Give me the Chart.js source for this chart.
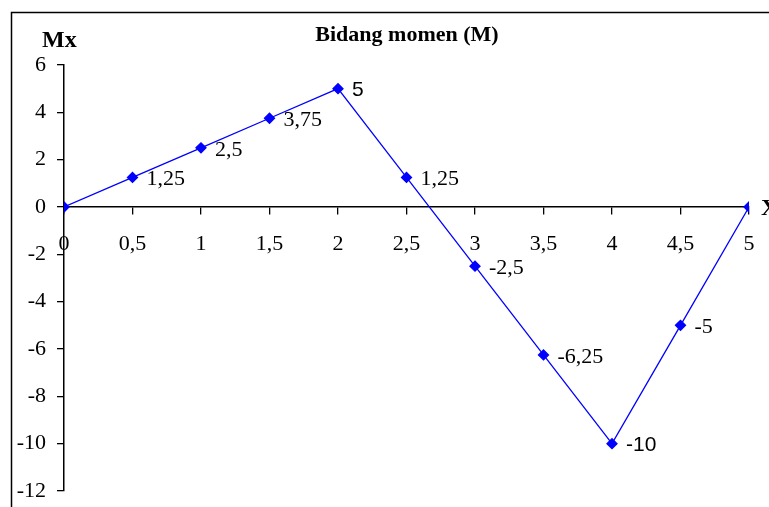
<!DOCTYPE html>
<html>
<head>
<meta charset="utf-8">
<script src="https://cdn.jsdelivr.net/npm/chart.js@4.4.1/dist/chart.umd.min.js"></script>
<style>
  html, body { margin: 0; padding: 0; background: #fff; }
  #wrap { width: 769px; height: 507px; }
</style>
</head>
<body>
<div id="wrap"><canvas id="momenChart" width="769" height="507"></canvas></div>
<script>
// ========== data ==========
const xValues = [0, 0.5, 1, 1.5, 2, 2.5, 3, 3.5, 4, 4.5, 5];
const mValues = [0, 1.25, 2.5, 3.75, 5, 1.25, -2.5, -6.25, -10, -5, 0];
const pointLabels = ['', '1,25', '2,5', '3,75', '5', '1,25', '-2,5', '-6,25', '-10', '-5', ''];
const sansLabels = ['5', '-10'];   // these two look like Arial in the original
const xTicks = [0, 0.5, 1, 1.5, 2, 2.5, 3, 3.5, 4, 4.5, 5];
const yTicks = [-12, -10, -8, -6, -4, -2, 0, 2, 4, 6];

const serif = "'Liberation Serif', 'Times New Roman', serif";
const sans = "'Liberation Sans', Arial, sans-serif";

// labels next to points, title, axis captions, outer frame
const extrasPlugin = {
  id: 'extras',
  afterDatasetsDraw(chart) {
    const ctx = chart.ctx;
    const meta = chart.getDatasetMeta(0);
    ctx.save();
    ctx.fillStyle = '#000';
    ctx.textAlign = 'left';
    ctx.textBaseline = 'middle';
    meta.data.forEach((pt, i) => {
      const txt = pointLabels[i];
      if (!txt) return;
      ctx.font = sansLabels.includes(txt) ? '21px ' + sans : '22px ' + serif;
      ctx.fillText(txt, pt.x + 14, pt.y + 2);
    });

    ctx.textAlign = 'center';
    ctx.font = 'bold 22px ' + serif;
    ctx.fillText('Bidang momen (M)', 407, 35);

    ctx.textAlign = 'left';
    ctx.font = 'bold 24px ' + serif;
    ctx.fillText('Mx', 42, 41);
    ctx.fillText('X', 761, 209);

    ctx.strokeStyle = '#000';
    ctx.lineWidth = 1.5;
    ctx.strokeRect(11.5, 12.5, 900, 700);
    ctx.restore();
  }
};

// drop the automatic label padding so layout.padding alone places the plot area
function noPadding(scale) {
  scale.paddingTop = 0;
  scale.paddingBottom = 0;
  scale.paddingLeft = 0;
  scale.paddingRight = 0;
}

const ctx = document.getElementById('momenChart').getContext('2d');

new Chart(ctx, {
  type: 'line',
  data: {
    datasets: [{
      label: 'M',
      data: xValues.map((x, i) => ({ x: x, y: mValues[i] })),
      borderColor: '#0000ff',
      backgroundColor: '#0000ff',
      borderWidth: 1.3,
      pointStyle: 'rectRot',
      pointRadius: 5,
      pointHoverRadius: 5,
      tension: 0
    }]
  },
  options: {
    responsive: false,
    animation: false,
    layout: { padding: { left: 0, top: 65, right: 20, bottom: 16 } },
    plugins: {
      legend: { display: false },
      title: { display: false },
      tooltip: { enabled: false }
    },
    scales: {
      x: {
        type: 'linear',
        position: { y: 0 },
        min: 0,
        max: 5,
        afterBuildTicks: scale => { scale.ticks = xTicks.map(v => ({ value: v })); },
        afterFit: noPadding,
        grid: { drawOnChartArea: false, drawTicks: true, tickLength: 7, color: '#000', lineWidth: 1.3 },
        border: { display: true, color: '#000', width: 1.5 },
        ticks: {
          color: '#000',
          font: { family: serif, size: 22 },
          padding: 17,
          maxRotation: 0,
          autoSkip: false,
          callback: v => String(v).replace('.', ',')
        }
      },
      y: {
        type: 'linear',
        position: 'left',
        min: -12,
        max: 6,
        afterBuildTicks: scale => { scale.ticks = yTicks.map(v => ({ value: v })); },
        afterFit: scale => { noPadding(scale); scale.width = 64; },
        grid: { drawOnChartArea: false, drawTicks: true, tickLength: 7, color: '#000', lineWidth: 1.3 },
        border: { display: true, color: '#000', width: 1.5 },
        ticks: {
          color: '#000',
          font: { family: serif, size: 22 },
          padding: 11,
          autoSkip: false
        }
      }
    }
  },
  plugins: [extrasPlugin]
});
</script>
</body>
</html>
